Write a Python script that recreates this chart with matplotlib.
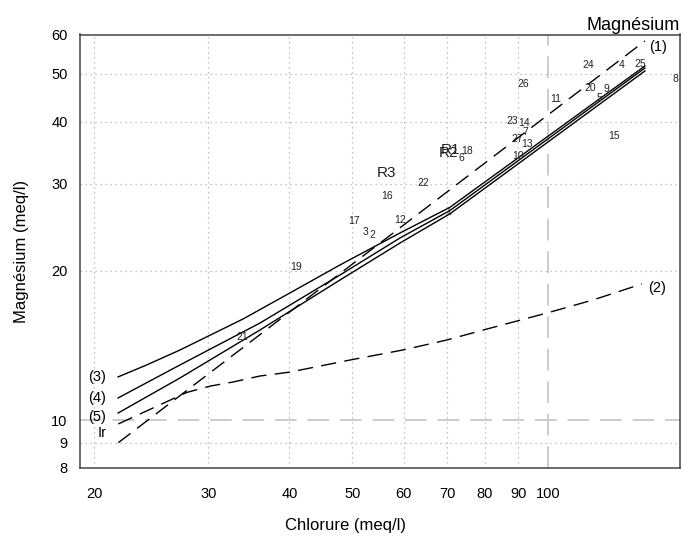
import matplotlib
matplotlib.use("Agg")
import matplotlib.pyplot as plt
from matplotlib.ticker import FixedLocator, FixedFormatter, NullFormatter

plt.rcParams['font.family'] = ['Liberation Sans', 'DejaVu Sans']

# ---- data ----
# curve (1): dashed straight evaporation line
c1_x = [21.8, 141.1]
c1_y = [9.0, 58.3]
# curve (2): dashed, flattening
c2_x = [21.8, 27.8, 30.2, 32.7, 36.0, 40.1, 49.6, 59.8, 69.9, 80.6, 99.7, 117.4, 139.6]
c2_y = [9.82, 11.37, 11.71, 11.93, 12.27, 12.50, 13.22, 13.85, 14.51, 15.27, 16.45, 17.48, 18.83]
# curve (3)
c3_x = [21.78, 24.11, 27.13, 33.93, 40.07, 47.85, 59.2, 70.68, 141.1]
c3_y = [12.22, 12.92, 13.85, 16.0, 18.06, 20.57, 23.87, 26.9, 51.9]
# curve (4)
c4_x = [21.78, 27.13, 36.03, 47.85, 59.2, 70.68, 141.1]
c4_y = [11.08, 12.92, 15.70, 19.63, 23.32, 26.5, 51.4]
# curve (5)
c5_x = [21.78, 27.13, 36.03, 47.85, 59.2, 70.68, 141.1]
c5_y = [10.33, 12.16, 15.2, 19.18, 22.78, 26.1, 50.7]

# sample labels
pt_labels = ['1', '2', '3', '4', '5', '6', '7', '8', '9', '10', '11', '12', '13', '14',
             '15', '16', '17', '18', '19', '20', '21', '22', '23', '24', '25', '26', '27']
pt_x = [70.2, 53.6, 52.3, 130.1, 119.9, 73.5, 92.2, 157.0, 123.3, 90.0, 102.9, 59.2, 92.9, 91.9,
        126.4, 56.5, 50.3, 75.1, 40.9, 116.1, 33.9, 64.2, 88.1, 115.3, 138.6, 91.6, 89.6]
pt_y = [26.3, 23.6, 24.0, 52.1, 44.7, 33.8, 38.2, 48.8, 46.6, 34.1, 44.5, 25.4, 36.1, 39.8,
        37.5, 28.3, 25.2, 34.9, 20.4, 46.8, 14.7, 30.1, 40.2, 52.1, 52.4, 47.7, 37.0]

r_labels = ['R1', 'R2', 'R3']
r_x = [70.9, 70.2, 56.5]
r_y = [35.1, 34.6, 31.6]

curve_labels = ['(1)', '(2)', '(3)', '(4)', '(5)', 'Ir']
curve_lx = [147.8, 147.3, 20.2, 20.2, 20.2, 20.57]
curve_ly = [56.7, 18.5, 12.22, 11.08, 10.14, 9.41]

x_ticks = [20, 30, 40, 50, 60, 70, 80, 90, 100]
y_ticks = [8, 9, 10, 20, 30, 40, 50, 60]
x_grid = [20, 30, 40, 50, 60, 70, 80, 90]
y_grid = [9, 20, 30, 40, 50]
x_ref = 100
y_ref = 10

# ---- figure ----
fig = plt.figure(figsize=(6.82, 5.40), dpi=100)
ax = fig.add_axes([80 / 682, 72 / 540, 600 / 682, 433.5 / 540])
ax.set_xscale('log')
ax.set_yscale('log')
ax.set_xlim(19.03, 159.8)
ax.set_ylim(8, 60.08)

for gx in x_grid:
    ax.axvline(gx, color='#b0b0b0', lw=0.9, ls=(0, (1, 3)), zorder=0)
for gy in y_grid:
    ax.axhline(gy, color='#b0b0b0', lw=0.9, ls=(0, (1, 3)), zorder=0)
ax.axvline(x_ref, color='#c8c8c8', lw=1.3, ls=(0, (12, 6)), zorder=0)
ax.axhline(y_ref, color='#c8c8c8', lw=1.3, ls=(0, (12, 6)), zorder=0)

dash = (0, (11, 6))
ax.plot(c1_x, c1_y, color='black', lw=1.0, ls=dash)
ax.plot(c2_x, c2_y, color='black', lw=1.0, ls=dash)
ax.plot(c3_x, c3_y, color='black', lw=1.0)
ax.plot(c4_x, c4_y, color='black', lw=1.0)
ax.plot(c5_x, c5_y, color='black', lw=1.0)

for t, x, y in zip(pt_labels, pt_x, pt_y):
    ax.text(x, y, t, fontsize=7.5, ha='center', va='center', color='#222222')
for t, x, y in zip(r_labels, r_x, r_y):
    ax.text(x, y, t, fontsize=11, ha='center', va='center', color='#222222')
for t, x, y in zip(curve_labels, curve_lx, curve_ly):
    ax.text(x, y, t, fontsize=10.5, ha='center', va='center', color='black')

ax.xaxis.set_major_locator(FixedLocator(x_ticks))
ax.xaxis.set_major_formatter(FixedFormatter([str(v) for v in x_ticks]))
ax.xaxis.set_minor_locator(FixedLocator([x_ref]))
ax.xaxis.set_minor_formatter(NullFormatter())
ax.yaxis.set_major_locator(FixedLocator(y_ticks))
ax.yaxis.set_major_formatter(FixedFormatter([str(v) for v in y_ticks]))
ax.yaxis.set_minor_locator(FixedLocator([y_ref]))
ax.yaxis.set_minor_formatter(NullFormatter())
ax.tick_params(which='major', length=0, labelsize=10.5)
ax.tick_params(axis='x', which='major', pad=14)
ax.tick_params(axis='y', which='major', pad=9)
ax.tick_params(which='minor', length=6, width=1.0, color='#333333', direction='out')

for s in ax.spines.values():
    s.set_color('#444444')
    s.set_linewidth(1.1)

ax.set_xlabel('Chlorure (meq/l)', fontsize=12)
ax.xaxis.set_label_coords(0.442, -0.115)
ax.set_ylabel('Magnésium (meq/l)', fontsize=12)
ax.yaxis.set_label_coords(-0.085, 0.5)
ax.set_title('Magnésium', loc='right', fontsize=13, pad=3)

fig.savefig('out.png', dpi=100)
